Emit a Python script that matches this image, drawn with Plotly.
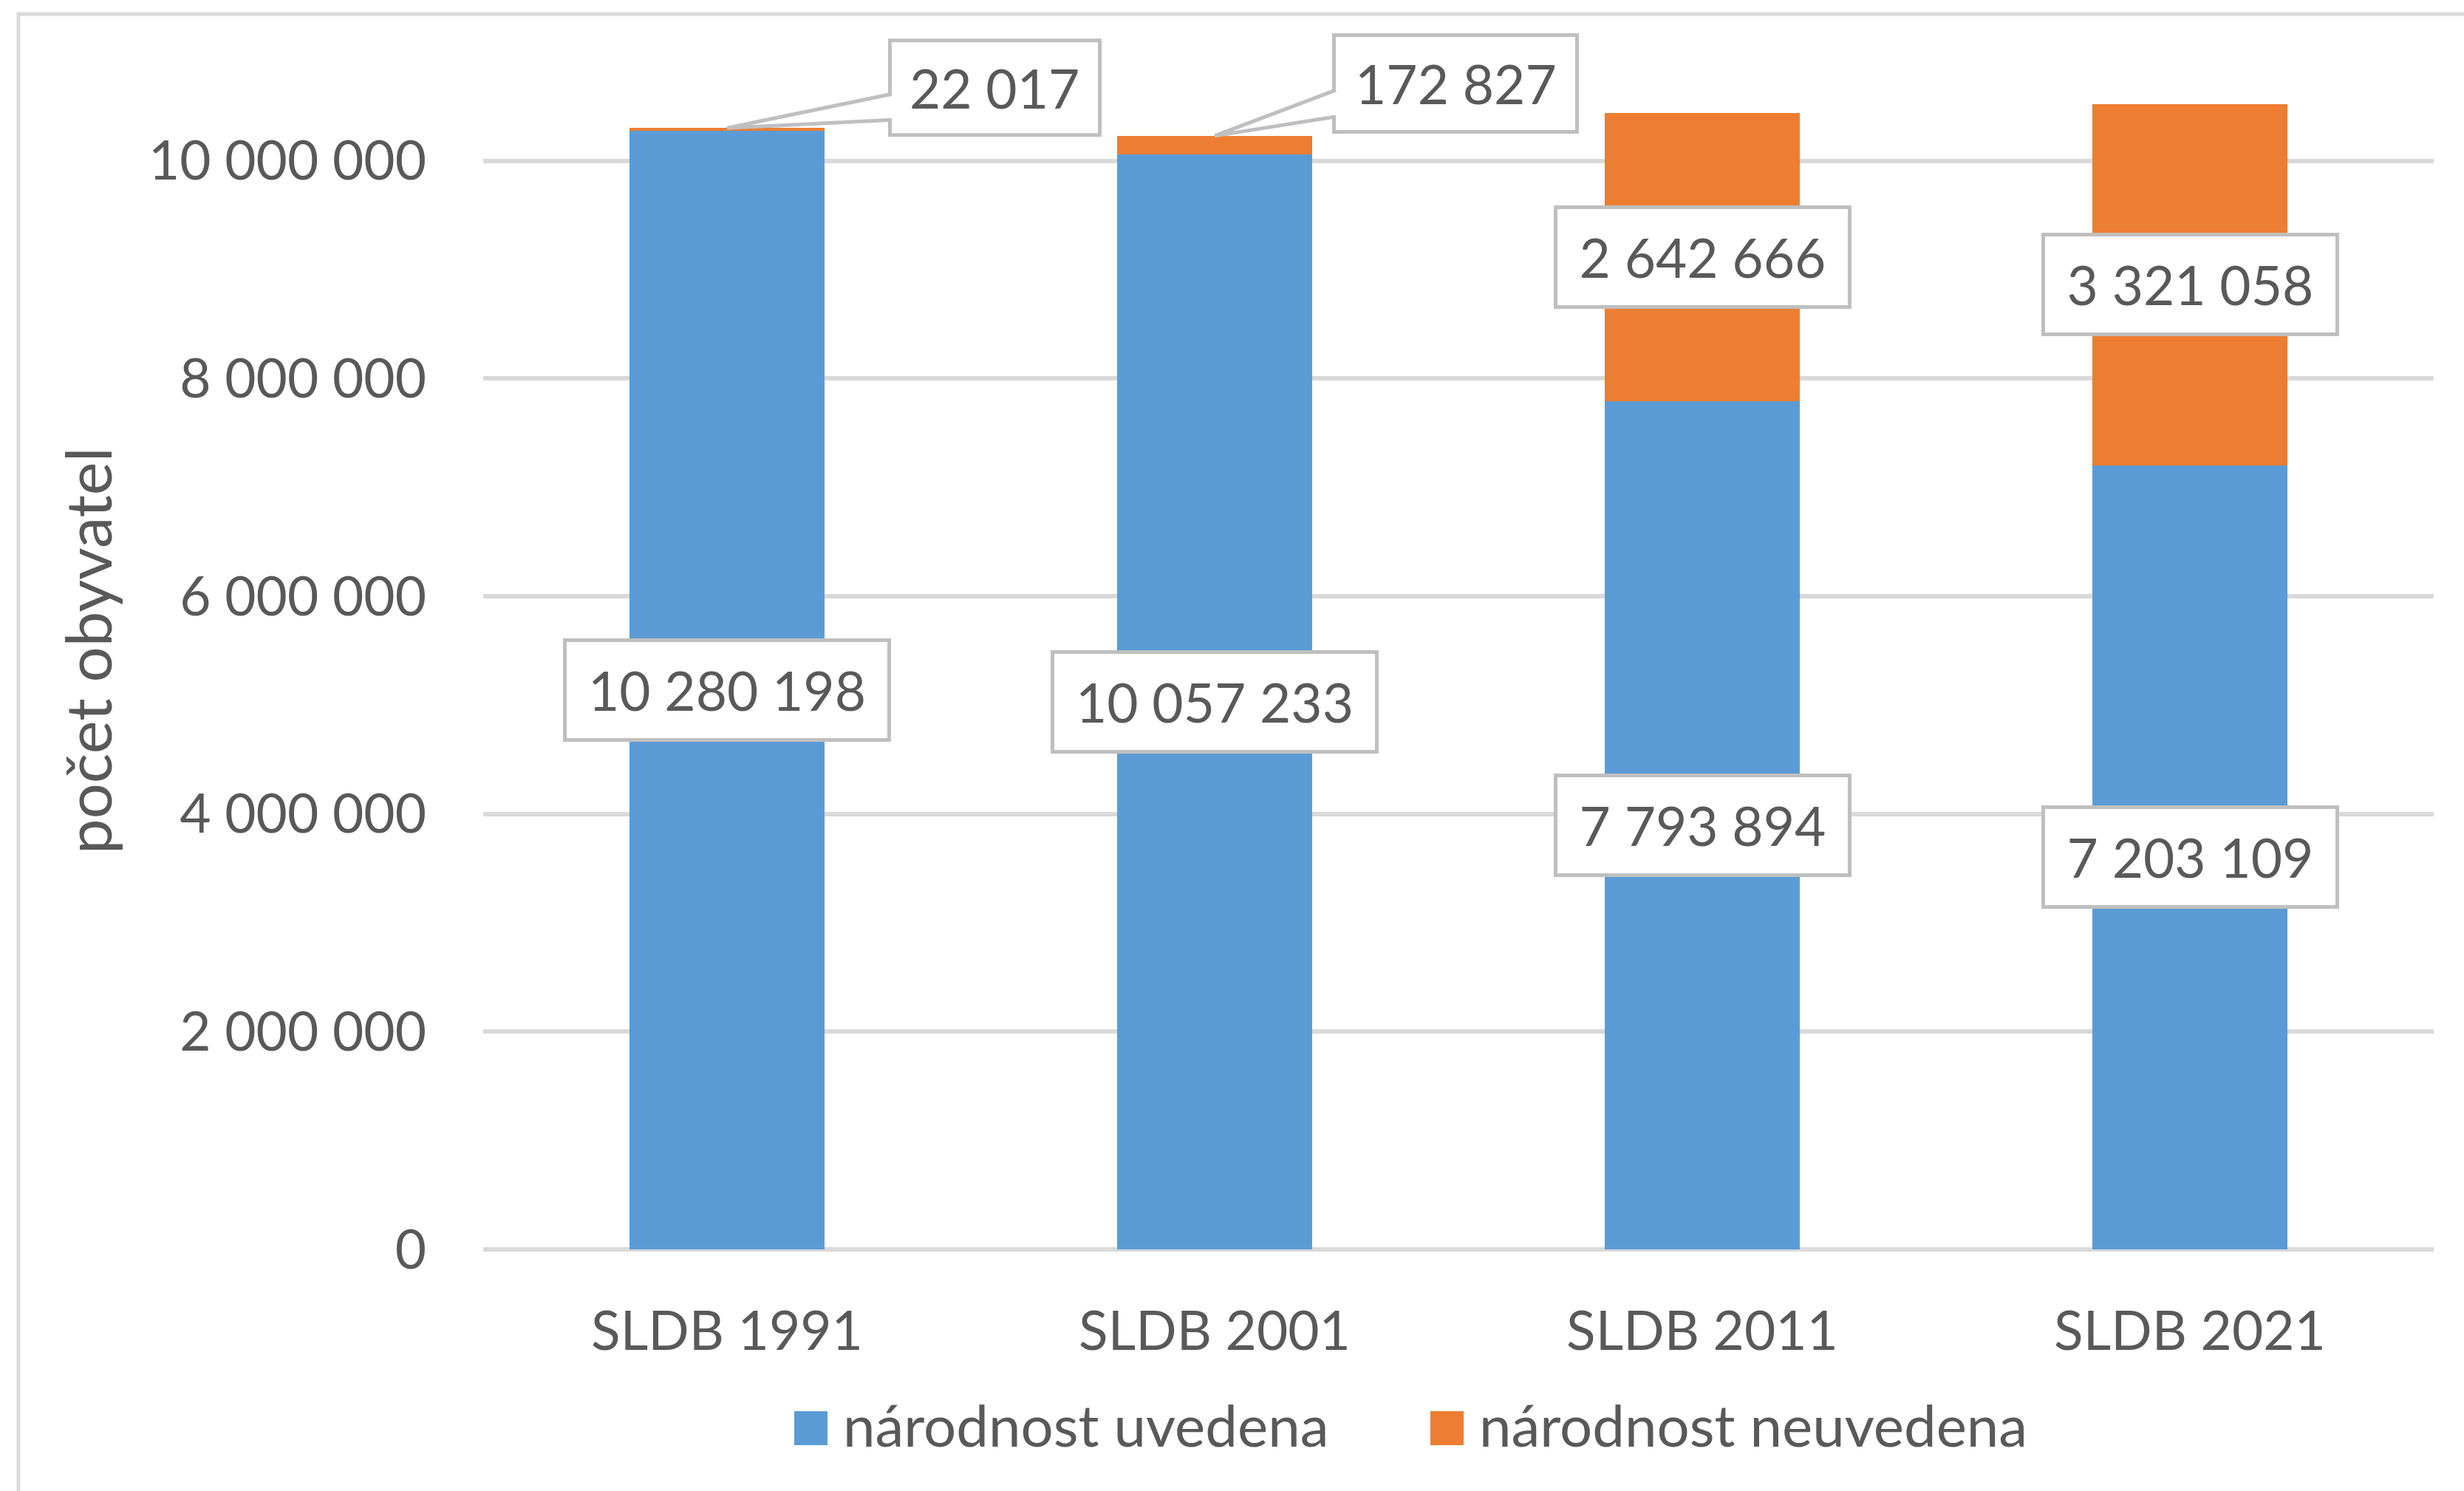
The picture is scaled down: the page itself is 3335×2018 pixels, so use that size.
import plotly.graph_objects as go

# ---- data ----
categories = ["SLDB 1991", "SLDB 2001", "SLDB 2011", "SLDB 2021"]
uvedena = [10280198, 10057233, 7793894, 7203109]
neuvedena = [22017, 172827, 2642666, 3321058]
series_names = ["národnost uvedena", "národnost neuvedena"]
y_title = "počet obyvatel"
y_ticks = [0, 2000000, 4000000, 6000000, 8000000, 10000000]

BLUE = "#5B9BD5"
ORANGE = "#ED7D31"
GRID = "#D9D9D9"
TXT = "#595959"
BOXLINE = "#BFBFBF"
FONT = "Lato"

W, H = 3335, 2018
L, R, T, B = 654, 41, 41, 327
PW, PH = W - L - R, H - T - B


def px_x(p):
    return (p - L) / PW


def px_y(p):
    return (H - B - p) / PH


def fmt(v):
    return f"{v:,}".replace(",", " ")


def box_w(s):
    # approximate text width (px) for the label box (total, incl. border)
    return int(sum(40.5 if c.isdigit() else 15 for c in s) + 80)


fig = go.Figure()
fig.add_trace(go.Bar(x=categories, y=uvedena, name=series_names[0],
                     marker=dict(color=BLUE, line=dict(width=0)), showlegend=False))
fig.add_trace(go.Bar(x=categories, y=neuvedena, name=series_names[1],
                     marker=dict(color=ORANGE, line=dict(width=0)), showlegend=False))

annotations = []
shapes = []

# outer chart border
shapes.append(dict(type="rect", xref="paper", yref="paper",
                   x0=px_x(25), x1=px_x(W + 20), y0=px_y(19), y1=px_y(H + 20),
                   line=dict(color=GRID, width=5), fillcolor="rgba(0,0,0,0)", layer="below"))

# inside labels (centered in segments)
lab_font = dict(family=FONT, size=73, color=TXT)
for i, c in enumerate(categories):
    t = fmt(uvedena[i])
    annotations.append(dict(x=c, y=uvedena[i] / 2, xref="x", yref="y", text=t,
                            showarrow=False, font=lab_font, bgcolor="white",
                            bordercolor=BOXLINE, borderwidth=5, borderpad=0,
                            width=box_w(t), height=130, align="center", valign="middle"))

# orange labels: big ones inside, small ones as callouts
callout = {0: dict(dx=362, dy=54, x0=218, x1=507, y0=-12, y1=121,
                   wedge="M 223,46 L 0,0 L 223,11"),
           1: dict(dx=326, dy=71, x0=159, x1=493, y0=3, y1=139,
                   wedge="M 164,62 L 0,0 L 164,26")}
for i, c in enumerate(categories):
    t = fmt(neuvedena[i])
    top = uvedena[i] + neuvedena[i]
    if i in callout:
        co = callout[i]
        shapes.append(dict(type="rect", xref="x", yref="y", xsizemode="pixel",
                           ysizemode="pixel", xanchor=c, yanchor=top,
                           x0=co["x0"] + 2.5, x1=co["x1"] - 2.5,
                           y0=co["y0"] + 2.5, y1=co["y1"] - 2.5,
                           line=dict(color=BOXLINE, width=5), fillcolor="white"))
        shapes.append(dict(type="path", xref="x", yref="y", xsizemode="pixel",
                           ysizemode="pixel", xanchor=c, yanchor=top,
                           path=co["wedge"],
                           line=dict(color=BOXLINE, width=5), fillcolor="white"))
        annotations.append(dict(x=c, y=top, xref="x", yref="y", text=t,
                                showarrow=False, font=lab_font,
                                xshift=co["dx"], yshift=co["dy"]))
    else:
        annotations.append(dict(x=c, y=uvedena[i] + neuvedena[i] / 2, xref="x", yref="y",
                                text=t, showarrow=False, font=lab_font, bgcolor="white",
                                bordercolor=BOXLINE, borderwidth=5, borderpad=0,
                                width=box_w(t), height=130, align="center", valign="middle"))

# y axis title
annotations.append(dict(x=px_x(118), y=px_y(881), xref="paper", yref="paper",
                        xanchor="center", yanchor="middle",
                        text=y_title, textangle=-90, showarrow=False,
                        font=dict(family=FONT, size=85, color=TXT)))

# manual legend
leg_items = [(1075, series_names[0], BLUE), (1936, series_names[1], ORANGE)]
for x0, name, col in leg_items:
    shapes.append(dict(type="rect", xref="paper", yref="paper",
                       x0=px_x(x0), x1=px_x(x0 + 45), y0=px_y(1956), y1=px_y(1910),
                       line=dict(width=0), fillcolor=col))
    annotations.append(dict(x=px_x(x0 + 64), y=px_y(1928), xref="paper", yref="paper",
                            xanchor="left", yanchor="middle", text=name, showarrow=False,
                            font=dict(family=FONT, size=78, color=TXT)))

fig.update_layout(
    width=W, height=H,
    margin=dict(l=L, r=R, t=T, b=B, autoexpand=False),
    barmode="stack", bargap=0.6,
    paper_bgcolor="white", plot_bgcolor="white",
    separators=", ",
    font=dict(family=FONT, size=73, color=TXT),
    showlegend=False,
    annotations=annotations, shapes=shapes,
    xaxis=dict(type="category", showgrid=False, zeroline=False, showline=False,
               ticks="", tickfont=dict(family=FONT, size=73, color=TXT),
               ticklabelstandoff=62, automargin=False),
    yaxis=dict(range=[0, 11200000], tickvals=y_ticks,
               ticktext=[fmt(v) for v in y_ticks],
               showgrid=True, gridcolor=GRID, gridwidth=6,
               zeroline=True, zerolinecolor=GRID, zerolinewidth=6,
               showline=False, ticks="", automargin=False,
               tickfont=dict(family=FONT, size=73, color=TXT),
               ticklabelstandoff=76),
)

fig.write_html("out.html", config={"displayModeBar": False},
               post_script="document.body.style.margin='0';document.body.style.overflow='hidden';")
